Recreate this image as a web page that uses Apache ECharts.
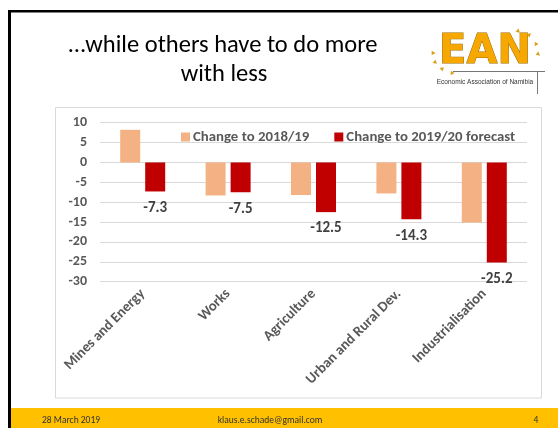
<!DOCTYPE html>
<html>
<head>
<meta charset="utf-8">
<script src="https://cdn.jsdelivr.net/npm/echarts@6/dist/echarts.min.js"></script>
<style>
html,body{margin:0;padding:0;background:#fff;}
#c{width:558px;height:428px;}
</style>
</head>
<body>
<div id="c"></div>
<script>
const categories = ['Mines and Energy', 'Works', 'Agriculture', 'Urban and Rural Dev.', 'Industrialisation'];
const seriesNames = ['Change to 2018/19', 'Change to 2019/20 forecast'];
const change2018 = [8.2, -8.3, -8.2, -7.8, -15.1];
const change2019 = [-7.3, -7.5, -12.5, -14.3, -25.2];
const yMin = -30, yMax = 10, yStep = 5;
const titleLines = ['\u2026while others have to do more', 'with less'];
const footerTexts = ['28 March 2019', 'klaus.e.schade@gmail.com', '4'];

const FONT = 'Calibri, Carlito, Lato, sans-serif';
const chart = echarts.init(document.getElementById('c'), null, {renderer: 'canvas'});

function tri(cx, cy, r, ang) {
  const pts = [];
  for (let i = 0; i < 3; i++) {
    const a = ang + i * 2 * Math.PI / 3;
    pts.push([cx + r * Math.cos(a), cy + r * Math.sin(a)]);
  }
  return {type: 'polygon', shape: {points: pts}, style: {fill: '#D9A21B'}, silent: true};
}
const rays = [[433,53],[435,62],[442,69],[452,73],[518,31],[529,35],[536,44],[538,54]].map((p, i) => tri(p[0], p[1], 2.6, i * 0.7));

chart.setOption({
  animation: false,
  backgroundColor: '#fff',
  graphic: [
    {type: 'rect', shape: {x: 8, y: 10, width: 550, height: 2.5}, style: {fill: '#000'}, silent: true},
    {type: 'rect', shape: {x: 8, y: 10, width: 3, height: 418}, style: {fill: '#000'}, silent: true},
    {type: 'rect', shape: {x: 11, y: 408, width: 547, height: 20}, style: {fill: '#FFC000'}, silent: true},
    {type: 'text', x: 42, y: 421, style: {text: footerTexts[0], font: '9.5px ' + FONT, fill: '#333', verticalAlign: 'middle', align: 'left'}},
    {type: 'text', x: 270, y: 421, style: {text: footerTexts[1], font: '9.5px ' + FONT, fill: '#333', verticalAlign: 'middle', align: 'center'}},
    {type: 'text', x: 536, y: 421, style: {text: footerTexts[2], font: '9.5px ' + FONT, fill: '#333', verticalAlign: 'middle', align: 'center'}},
    {type: 'rect', shape: {x: 55.5, y: 107.5, width: 486, height: 290.5}, style: {fill: 'none', stroke: '#d9d9d9', lineWidth: 1}, silent: true, z: -1},
    {type: 'text', x: 223, y: 46, style: {text: titleLines[0], font: '24.5px ' + FONT, fill: '#000', verticalAlign: 'middle', align: 'center'}},
    {type: 'text', x: 224, y: 75, style: {text: titleLines[1], font: '24.5px ' + FONT, fill: '#000', verticalAlign: 'middle', align: 'center'}},
    {type: 'text', x: 485, y: 53, style: {text: 'EAN', font: 'bold 40px "DejaVu Sans", sans-serif', fill: '#F7A800', stroke: '#9a6a00', lineWidth: 1, verticalAlign: 'middle', align: 'center'}},
    {type: 'line', shape: {x1: 453, y1: 71.5, x2: 545, y2: 71.5}, style: {stroke: '#777', lineWidth: 1}, silent: true},
    {type: 'line', shape: {x1: 537.5, y1: 71, x2: 537.5, y2: 94}, style: {stroke: '#777', lineWidth: 1}, silent: true},
    {type: 'text', x: 485, y: 82, style: {text: 'Economic Association of Namibia', font: '6.5px "Liberation Sans Narrow", "Liberation Sans", sans-serif', fill: '#333', verticalAlign: 'middle', align: 'center'}}
  ].concat(rays),
  legend: {
    data: seriesNames,
    left: 181,
    top: 129.5,
    padding: 0,
    itemWidth: 9,
    itemHeight: 9,
    itemGap: 25,
    icon: 'rect',
    textStyle: {fontFamily: FONT, fontWeight: 'bold', fontSize: 14.8, color: '#595959', padding: [0, 0, 0, -2]}
  },
  grid: {left: 100, right: 31, top: 122.7, bottom: 146.3, containLabel: false, outerBoundsMode: 'none'},
  xAxis: {
    type: 'category',
    data: categories,
    axisLine: {show: false},
    axisTick: {show: false},
    axisLabel: {interval: 0, rotate: 45, margin: 10, fontFamily: FONT, fontWeight: 'bold', fontSize: 14.5, color: '#595959'}
  },
  yAxis: {
    type: 'value',
    min: yMin, max: yMax, interval: yStep,
    axisLine: {show: false},
    axisTick: {show: false},
    splitLine: {lineStyle: {color: '#d9d9d9', width: 1}},
    axisLabel: {margin: 13, fontFamily: FONT, fontWeight: 'bold', fontSize: 14, color: '#595959'}
  },
  series: [
    {name: seriesNames[0], type: 'bar', data: change2018, barWidth: 20, barGap: '25%', itemStyle: {color: '#F4B183'}},
    {name: seriesNames[1], type: 'bar', data: change2019, barWidth: 20, itemStyle: {color: '#C00000'},
      label: {show: true, position: 'bottom', distance: 9, fontFamily: FONT, fontWeight: 'bold', fontSize: 15, color: '#404040',
        formatter: p => p.value.toFixed(1)}}
  ]
});
</script>
</body>
</html>
